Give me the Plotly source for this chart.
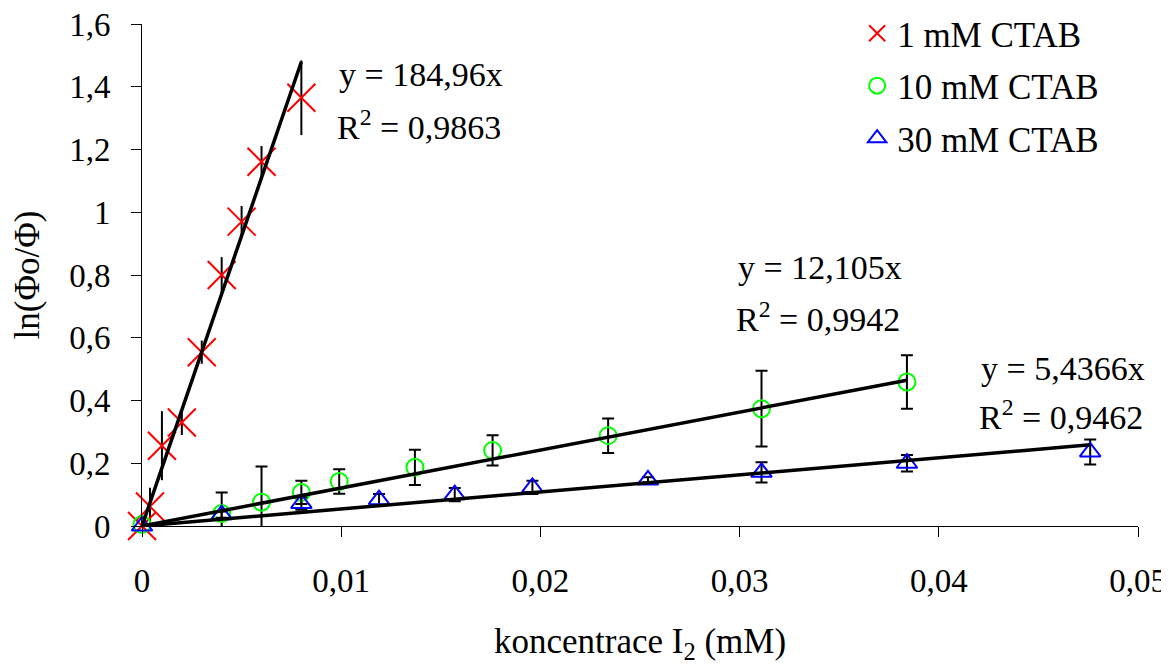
import plotly.graph_objects as go

# ---- data ----
x_1mM = [0, 0.0004, 0.001, 0.002, 0.003, 0.004, 0.005, 0.006, 0.008]
y_1mM = [0, 0.062, 0.256, 0.33, 0.554, 0.80, 0.97, 1.161, 1.365]
e_1mM = [0, 0.06, 0.11, 0.04, 0.037, 0.057, 0.05, 0.05, 0.119]

x_10mM = [0, 0.004, 0.006, 0.008, 0.0099, 0.0137, 0.0176, 0.0234, 0.0311, 0.0384]
y_10mM = [0.005, 0.04, 0.076, 0.107, 0.142, 0.187, 0.241, 0.288, 0.374, 0.459]
e_10mM = [0, 0.067, 0.114, 0.037, 0.039, 0.056, 0.048, 0.055, 0.121, 0.085]

x_30mM = [0, 0.004, 0.008, 0.0119, 0.0157, 0.0196, 0.0254, 0.0311, 0.0384, 0.0476]
y_30mM = [0, 0.036, 0.072, 0.084, 0.10, 0.123, 0.147, 0.171, 0.20, 0.236]
e_30mM = [0, 0.01, 0.02, 0.018, 0.021, 0.021, 0.008, 0.032, 0.026, 0.04]

slopes = [184.96, 12.105, 5.4366]
fit_xmax = [0.008, 0.0384, 0.0476]
eq_texts = ["y = 184,96x", "y = 12,105x", "y = 5,4366x"]
r2_texts = ["R<sup>2</sup> = 0,9863", "R<sup>2</sup> = 0,9942", "R<sup>2</sup> = 0,9462"]
series_names = ["1 mM CTAB", "10 mM CTAB", "30 mM CTAB"]

x_ticks = [0, 0.01, 0.02, 0.03, 0.04, 0.05]
x_ticklabels = ["0", "0,01", "0,02", "0,03", "0,04", "0,05"]
y_ticks = [0, 0.2, 0.4, 0.6, 0.8, 1.0, 1.2, 1.4, 1.6]
y_ticklabels = ["0", "0,2", "0,4", "0,6", "0,8", "1", "1,2", "1,4", "1,6"]

FONT = "Liberation Serif"

fig = go.Figure()

fig.add_trace(go.Scatter(
    x=x_1mM, y=y_1mM, mode="markers", name=series_names[0], legendgroup="a",
    marker=dict(symbol="x-thin-open", size=28, color="#FF0000",
                line=dict(color="#FF0000", width=2)),
    error_y=dict(type="data", array=e_1mM, color="black", thickness=2, width=0),
    cliponaxis=False,
))
fig.add_trace(go.Scatter(
    x=x_10mM, y=y_10mM, mode="markers", name=series_names[1], legendgroup="b",
    marker=dict(symbol="circle-open", size=17, color="#00FF00",
                line=dict(color="#00FF00", width=2)),
    error_y=dict(type="data", array=e_10mM, color="black", thickness=2, width=6),
    cliponaxis=False,
))
fig.add_trace(go.Scatter(
    x=x_30mM, y=y_30mM, mode="markers", name=series_names[2], legendgroup="c",
    marker=dict(symbol="triangle-up-open", size=18, color="#0000FF",
                line=dict(color="#0000FF", width=2)),
    error_y=dict(type="data", array=e_30mM, color="black", thickness=2, width=6),
    cliponaxis=False,
))

for k, xm in zip(slopes, fit_xmax):
    fig.add_trace(go.Scatter(
        x=[0, xm], y=[0, k * xm], mode="lines",
        line=dict(color="black", width=3.5), showlegend=False, hoverinfo="skip",
    ))

# equation annotations (positions in data coordinates)
eq_pos = [(0.0098, 1.438), (0.0298, 0.823), (0.0420, 0.502)]
r2_pos = [(0.0097, 1.279), (0.0297, 0.667), (0.0419, 0.354)]
for (xe, ye), (xr, yr), te, tr in zip(eq_pos, r2_pos, eq_texts, r2_texts):
    fig.add_annotation(x=xe, y=ye, text=te, showarrow=False, xanchor="left",
                       yanchor="middle", font=dict(family=FONT, size=34, color="black"))
    fig.add_annotation(x=xr, y=yr, text=tr, showarrow=False, xanchor="left",
                       yanchor="middle", font=dict(family=FONT, size=34, color="black"))

fig.update_layout(
    width=1161, height=657,
    margin=dict(l=134, r=31, t=16, b=139, autoexpand=False),
    paper_bgcolor="white", plot_bgcolor="white",
    font=dict(family=FONT, size=33, color="black"),
    showlegend=True,
    legend=dict(x=0.718, y=1.04, xanchor="left", yanchor="top",
                font=dict(family=FONT, size=35, color="black"),
                traceorder="grouped", tracegroupgap=4,
                bgcolor="rgba(0,0,0,0)", itemsizing="trace"),
    xaxis=dict(
        range=[0, 0.05], tickvals=x_ticks, ticktext=x_ticklabels,
        showgrid=False, zeroline=False, showline=True, linecolor="black", linewidth=1,
        ticks="outside", ticklen=10, tickcolor="black", tickwidth=1,
        ticklabelstandoff=15, ticklabeloverflow="allow",
        tickfont=dict(family=FONT, size=33, color="black"),
        title=dict(text="koncentrace I<sub>2</sub> (mM)", standoff=50,
                   font=dict(family=FONT, size=35, color="black")),
        automargin=False,
    ),
    yaxis=dict(
        range=[0, 1.6], tickvals=y_ticks, ticktext=y_ticklabels,
        showgrid=False, zeroline=False, showline=True, linecolor="black", linewidth=1,
        ticks="outside", ticklen=10, tickcolor="black", tickwidth=1,
        ticklabelstandoff=14, ticklabeloverflow="allow",
        tickfont=dict(family=FONT, size=33, color="black"),
        title=dict(text="ln(Φo/Φ)", standoff=18,
                   font=dict(family=FONT, size=35, color="black")),
        automargin=False,
    ),
)

fig.write_html("out.html")
